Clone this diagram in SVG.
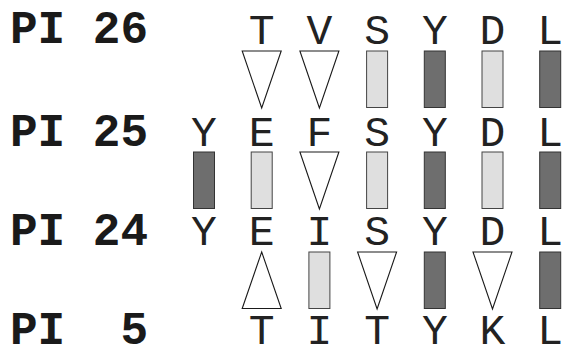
<svg xmlns="http://www.w3.org/2000/svg" width="565" height="348" viewBox="0 0 565 348">
<style>
.lab{font-family:"Courier New","Nimbus Mono PS","FreeMono","Liberation Mono",monospace;font-weight:bold;font-size:46px;fill:#1a1a1a;white-space:pre}
.aa{font-family:"Courier New","Nimbus Mono PS","FreeMono","Liberation Mono",monospace;font-size:43px;fill:#222;text-anchor:middle}
.dk{fill:#6e6e6e;stroke:#333;stroke-width:1}
.lt{fill:#dfdfdf;stroke:#444;stroke-width:1}
.tri{fill:#fff;stroke:#1a1a1a;stroke-width:1.1}
</style>
<rect width="565" height="348" fill="#fff"/>
<g id="labels">
<text class="lab" x="10" y="43" xml:space="preserve">PI 26</text>
<text class="lab" x="10" y="146" xml:space="preserve">PI 25</text>
<text class="lab" x="10" y="245" xml:space="preserve">PI 24</text>
<text class="lab" x="10" y="344" xml:space="preserve">PI  5</text>
</g>
<g id="row-pi26">
<text class="aa" x="261.7" y="44">T</text>
<text class="aa" x="319.4" y="44">V</text>
<text class="aa" x="377.1" y="44">S</text>
<text class="aa" x="434.8" y="44">Y</text>
<text class="aa" x="492.5" y="44">D</text>
<text class="aa" x="550.2" y="44">L</text>
</g>
<g id="row-pi25">
<text class="aa" x="204" y="146">Y</text>
<text class="aa" x="261.7" y="146">E</text>
<text class="aa" x="319.4" y="146">F</text>
<text class="aa" x="377.1" y="146">S</text>
<text class="aa" x="434.8" y="146">Y</text>
<text class="aa" x="492.5" y="146">D</text>
<text class="aa" x="550.2" y="146">L</text>
</g>
<g id="row-pi24">
<text class="aa" x="204" y="245">Y</text>
<text class="aa" x="261.7" y="245">E</text>
<text class="aa" x="319.4" y="245">I</text>
<text class="aa" x="377.1" y="245">S</text>
<text class="aa" x="434.8" y="245">Y</text>
<text class="aa" x="492.5" y="245">D</text>
<text class="aa" x="550.2" y="245">L</text>
</g>
<g id="row-pi5">
<text class="aa" x="261.7" y="344">T</text>
<text class="aa" x="319.4" y="344">I</text>
<text class="aa" x="377.1" y="344">T</text>
<text class="aa" x="434.8" y="344">Y</text>
<text class="aa" x="492.5" y="344">K</text>
<text class="aa" x="550.2" y="344">L</text>
</g>
<g id="connectors">
<g id="pi26-pi25">
<polygon class="tri" points="242.2,51 281.2,51 261.7,108"/>
<polygon class="tri" points="299.9,51 338.9,51 319.4,108"/>
<rect class="lt" x="366.6" y="51" width="21" height="56.5"/>
<rect class="dk" x="424.3" y="51" width="21" height="56.5"/>
<rect class="lt" x="482" y="51" width="21" height="56.5"/>
<rect class="dk" x="539.7" y="51" width="21" height="56.5"/>
</g>
<g id="pi25-pi24">
<rect class="dk" x="193.5" y="152" width="21" height="56.5"/>
<rect class="lt" x="251.2" y="152" width="21" height="56.5"/>
<polygon class="tri" points="299.9,152 338.9,152 319.4,209"/>
<rect class="lt" x="366.6" y="152" width="21" height="56.5"/>
<rect class="dk" x="424.3" y="152" width="21" height="56.5"/>
<rect class="lt" x="482" y="152" width="21" height="56.5"/>
<rect class="dk" x="539.7" y="152" width="21" height="56.5"/>
</g>
<g id="pi24-pi5">
<polygon class="tri" points="261.7,252 281.2,308.5 242.2,308.5"/>
<rect class="lt" x="308.9" y="252" width="21" height="56.5"/>
<polygon class="tri" points="357.6,252 396.6,252 377.1,309"/>
<rect class="dk" x="424.3" y="252" width="21" height="56.5"/>
<polygon class="tri" points="473,252 512,252 492.5,309"/>
<rect class="dk" x="539.7" y="252" width="21" height="56.5"/>
</g>
</g>
</svg>
